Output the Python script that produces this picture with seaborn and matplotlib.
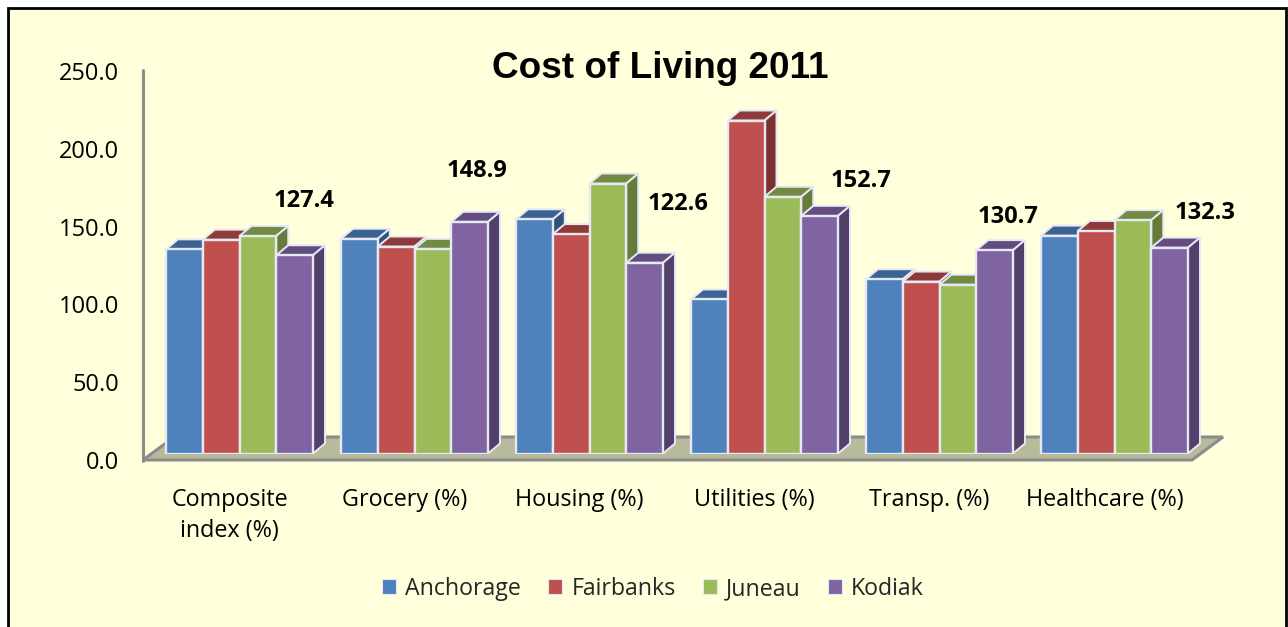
import matplotlib
matplotlib.use("Agg")
import pandas as pd
import seaborn as sns
import matplotlib.pyplot as plt
from matplotlib.patches import Polygon, Rectangle
from matplotlib.transforms import ScaledTranslation

# values, Kodiak ones are printed on the chart
categories = ["Composite\nindex (%)", "Grocery (%)", "Housing (%)",
              "Utilities (%)", "Transp. (%)", "Healthcare (%)"]
anchorage = [131.2, 138.0, 150.5, 99.0, 112.0, 140.0]
fairbanks = [137.4, 133.0, 141.0, 214.0, 110.5, 143.0]
juneau = [139.8, 131.5, 173.5, 165.0, 108.5, 150.0]
kodiak = [127.4, 148.9, 122.6, 152.7, 130.7, 132.3]
yticks = [0, 50, 100, 150, 200, 250]

cities = ["Anchorage", "Fairbanks", "Juneau", "Kodiak"]
colors = ["#4F81BD", "#C0504D", "#9BBB59", "#8064A2"]
tops = ["#3A6394", "#8E3A38", "#738A42", "#634C80"]
sides = ["#2F5279", "#7A3230", "#667B3A", "#523F6A"]
# where each Kodiak label sits relative to its bar, in pixels
label_dx = [9, 7, 33, 41, 13, 35]
label_dy = [54, 51, 59, 35, 33, 35]

W, H = 1288, 627
BG = "#FFFFDC"
EDGE = "#E6E8F4"
DEPTH_X, DEPTH_Y = 12, 10  # bar depth in pixels

df = pd.DataFrame({
    "category": categories * 4,
    "city": [c for c in cities for _ in categories],
    "value": anchorage + fairbanks + juneau + kodiak,
})

sns.set_theme(style="white")
plt.rcParams["font.family"] = ["Open Sans", "DejaVu Sans"]

fig = plt.figure(figsize=(W / 100, H / 100), dpi=100, facecolor="white")
# frame runs off the bottom of the picture
fig.add_artist(Rectangle((8 / W, -10 / H), 1278 / W, 629 / H, transform=fig.transFigure,
                         facecolor=BG, edgecolor="black", linewidth=2))

# axes = plane the bars stand on: 0 at y=453.5, 250 at y=64.5
ax = fig.add_axes([152 / W, 1 - 453.5 / H, 1050 / W, 389 / H])
ax.patch.set_alpha(0)

sns.barplot(data=df, x="category", y="value", hue="city", hue_order=cities, palette=colors,
            order=categories, width=0.84, saturation=1, edgecolor=EDGE, linewidth=1.7,
            ax=ax, legend=False)
ax.set_xlim(-0.5, 5.5)
ax.set_ylim(0, 250)
ax.set_xlabel("")
ax.set_ylabel("")
sns.despine(ax=ax, left=True, bottom=True, top=True, right=True)

ux = 1050 / 6
uy = 389 / 250
dx = DEPTH_X / ux
dy = DEPTH_Y / uy

# 3d faces on every bar, left to right so the next bar covers the side
bars = []
for i, cont in enumerate(ax.containers):
    for b in cont:
        bars.append((b, i))
bars.sort(key=lambda t: t[0].get_x())
z = 5
for b, i in bars:
    x0, w, h = b.get_x(), b.get_width(), b.get_height()
    ax.add_patch(Polygon([(x0, h), (x0 + dx, h + dy), (x0 + w + dx, h + dy), (x0 + w, h)],
                         facecolor=tops[i], edgecolor=EDGE, linewidth=1.4, zorder=z, clip_on=False))
    ax.add_patch(Polygon([(x0 + w, 0), (x0 + w + dx, dy), (x0 + w + dx, h + dy), (x0 + w, h)],
                         facecolor=sides[i], edgecolor=EDGE, linewidth=1.4, zorder=z, clip_on=False))
    b.set_zorder(z + 0.5)
    z += 1

# floor and value axis, in figure pixels
def fig_xy(x, y):
    return (x / W, 1 - y / H)

floor = Polygon([fig_xy(143, 460), fig_xy(1192, 460), fig_xy(1223, 437), fig_xy(174, 437)],
                transform=fig.transFigure, facecolor="#B8BA9C", edgecolor="#8C8C8C", linewidth=2.2)
fig.add_artist(floor)
fig.add_artist(plt.Line2D([143 / W, 143 / W], [1 - 70 / H, 1 - 461 / H], color="#8C8C8C", linewidth=2.2))
ax.set_zorder(3)

ax.set_yticks(yticks)
ax.set_yticklabels([f"{v:.1f}" for v in yticks], fontsize=17, color="black")
ax.tick_params(axis="y", length=0, pad=23.5)
shift = ScaledTranslation(0, -0.065, fig.dpi_scale_trans)
for lab in ax.get_yticklabels():
    lab.set_transform(lab.get_transform() + shift)
ax.tick_params(axis="x", length=0, pad=25, labelsize=16.8, colors="black")
shift_x = ScaledTranslation(-0.10, 0, fig.dpi_scale_trans)
for lab in ax.get_xticklabels():
    lab.set_transform(lab.get_transform() + shift_x)
    lab.set_linespacing(1.35)

# Kodiak value labels
for b, v, ox, oy in zip(ax.containers[3], kodiak, label_dx, label_dy):
    ax.annotate(f"{v:.1f}", (b.get_x() + b.get_width() / 2, v), xytext=(ox * 0.72, oy * 0.72),
                textcoords="offset points", ha="center", va="center", fontsize=17,
                fontweight="bold", color="black", zorder=50, annotation_clip=False)

fig.text(660.5 / W, 1 - 68 / H, "Cost of Living 2011", ha="center", va="center", fontsize=26.6,
         fontweight="bold", family="Liberation Sans", color="black")

handles = [Rectangle((0, 0), 1, 1, facecolor=c, edgecolor=EDGE, linewidth=0.8) for c in colors]
fig.legend(handles, cities, loc="center", bbox_to_anchor=(653 / W, 1 - 589 / H), ncol=4, frameon=False,
           fontsize=16.7, handlelength=0.6, handleheight=0.6, handletextpad=0.4, columnspacing=1.17)

fig.savefig("out.png", dpi=100, facecolor=fig.get_facecolor())
